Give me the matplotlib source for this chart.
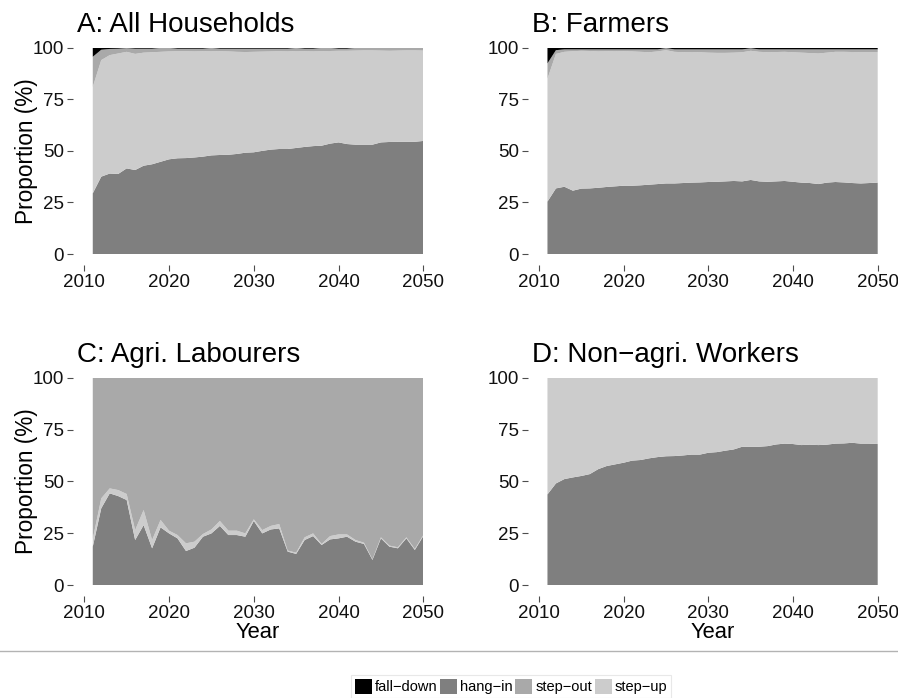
import matplotlib
matplotlib.use("Agg")
import matplotlib.pyplot as plt
from matplotlib.patches import Patch
from matplotlib.lines import Line2D
import numpy as np

plt.rcParams['font.family'] = ['Liberation Sans', 'DejaVu Sans']

years = np.arange(2011, 2051)
categories = ["fall\u2212down", "hang\u2212in", "step\u2212out", "step\u2212up"]
colours = {"fall": "#000000", "hang": "#7f7f7f", "out": "#a9a9a9", "up": "#cccccc"}

# A: All Households
a_hang = [29.4, 37.5, 39.0, 38.8, 41.5, 40.7, 42.8, 43.5, 44.7, 45.9, 46.4, 46.5, 46.8, 47.2, 47.8, 48.0, 48.1, 48.5, 49.1, 49.3,
          50.0, 50.6, 50.9, 50.9, 51.4, 51.9, 52.3, 52.5, 53.5, 54.1, 53.3, 53.0, 53.0, 53.0, 54.1, 54.3, 54.4, 54.4, 54.4, 54.8]
a_up = [51.6, 56.5, 57.4, 58.4, 56.5, 56.3, 54.8, 54.3, 53.3, 52.3, 51.9, 51.8, 51.4, 51.1, 50.6, 50.3, 50.1, 49.5, 48.8, 48.7,
        48.1, 47.6, 47.4, 47.3, 47.0, 46.4, 45.9, 45.8, 44.9, 44.4, 45.2, 45.6, 45.7, 45.7, 44.5, 44.2, 44.2, 44.3, 44.3, 43.8]
a_out = [14.6, 5.0, 3.0, 2.3, 1.8, 2.5, 1.9, 1.7, 1.9, 1.7, 1.2, 1.2, 1.3, 1.2, 1.5, 1.2, 1.3, 1.5, 1.6, 1.5,
         1.4, 1.3, 1.2, 1.3, 1.5, 1.2, 1.3, 1.6, 1.5, 1.0, 1.0, 1.3, 1.2, 1.2, 1.3, 1.4, 1.3, 1.2, 1.2, 1.3]
a_fall = [4.4, 1.0, 0.6, 0.5, 0.2, 0.5, 0.5, 0.5, 0.1, 0.1, 0.5, 0.5, 0.5, 0.5, 0.1, 0.5, 0.5, 0.5, 0.5, 0.5,
          0.5, 0.5, 0.5, 0.5, 0.1, 0.5, 0.5, 0.1, 0.1, 0.5, 0.5, 0.1, 0.1, 0.1, 0.1, 0.1, 0.1, 0.1, 0.1, 0.1]

# B: Farmers
b_hang = [25.4, 31.8, 32.6, 30.7, 31.7, 31.8, 32.1, 32.5, 32.8, 33.1, 33.1, 33.3, 33.6, 33.9, 34.2, 34.2, 34.4, 34.6, 34.7, 34.9,
          35.0, 35.2, 35.4, 35.2, 35.9, 35.2, 35.0, 35.2, 35.4, 35.0, 34.6, 34.4, 33.9, 34.6, 34.9, 34.7, 34.4, 34.2, 34.4, 34.6]
b_up = [59.6, 65.2, 65.4, 67.6, 66.8, 66.6, 66.1, 65.8, 65.6, 65.2, 65.1, 64.7, 64.2, 64.3, 64.6, 63.8, 63.4, 63.3, 63.1, 62.7,
        62.5, 62.3, 62.2, 62.6, 62.6, 62.8, 62.8, 62.7, 62.6, 62.8, 63.0, 63.0, 63.3, 63.0, 63.1, 63.3, 63.5, 63.6, 63.4, 63.2]
b_out = [7.4, 1.8, 1.2, 0.9, 0.7, 0.8, 1.0, 0.9, 0.8, 0.9, 1.0, 1.2, 1.4, 1.0, 1.0, 1.2, 1.4, 1.3, 1.4, 1.6,
         1.7, 1.7, 1.6, 1.4, 1.2, 1.2, 1.4, 1.3, 1.2, 1.4, 1.6, 1.8, 2.0, 1.6, 1.2, 1.2, 1.3, 1.4, 1.4, 1.4]
b_fall = [7.6, 1.2, 0.8, 0.8, 0.8, 0.8, 0.8, 0.8, 0.8, 0.8, 0.8, 0.8, 0.8, 0.8, 0.2, 0.8, 0.8, 0.8, 0.8, 0.8,
          0.8, 0.8, 0.8, 0.8, 0.3, 0.8, 0.8, 0.8, 0.8, 0.8, 0.8, 0.8, 0.8, 0.8, 0.8, 0.8, 0.8, 0.8, 0.8, 0.8]

# C: Agri. Labourers
c_hang = [18.5, 37.0, 44.2, 42.9, 41.0, 21.7, 28.9, 17.7, 27.8, 24.9, 22.5, 16.4, 18.0, 23.3, 24.9, 28.5, 24.1, 24.1, 23.3, 30.9,
          24.9, 26.8, 27.3, 16.1, 15.0, 21.7, 23.6, 19.3, 22.0, 22.5, 23.3, 20.9, 19.8, 12.1, 22.5, 18.5, 17.7, 22.5, 16.9, 23.6]
c_up = [3.7, 4.8, 2.4, 2.9, 2.9, 4.8, 7.3, 4.0, 3.6, 1.3, 1.6, 3.7, 2.9, 1.3, 1.9, 2.4, 2.1, 2.1, 1.6, 0.8,
        1.6, 1.7, 2.1, 0.5, 0.6, 1.3, 1.3, 0.5, 1.6, 1.9, 1.1, 0.8, 0.6, 0.3, 0.5, 0.5, 0.5, 0.5, 0.5, 0.5]
c_out = [77.8, 58.2, 53.4, 54.2, 56.1, 73.5, 63.8, 78.3, 68.6, 73.8, 75.9, 79.9, 79.1, 75.4, 73.2, 69.1, 73.8, 73.8, 75.1, 68.3,
         73.5, 71.5, 70.6, 83.4, 84.4, 77.0, 75.1, 80.2, 76.4, 75.6, 75.6, 78.3, 79.6, 87.6, 77.0, 81.0, 81.8, 77.0, 82.6, 75.9]
c_fall = [0.0] * 40

# D: Non-agri. Workers
d_hang = [43.7, 49.0, 51.1, 51.9, 52.6, 53.5, 55.9, 57.4, 58.2, 59.0, 60.0, 60.3, 61.1, 61.7, 62.1, 62.2, 62.5, 62.9, 62.9, 63.8,
          64.1, 64.8, 65.4, 66.7, 66.7, 66.7, 67.0, 67.8, 68.2, 68.0, 67.5, 67.7, 67.5, 67.7, 68.2, 68.3, 68.6, 68.2, 68.2, 68.0]
d_up = [56.3, 51.0, 48.9, 48.1, 47.4, 46.5, 44.1, 42.6, 41.8, 41.0, 40.0, 39.7, 38.9, 38.3, 37.9, 37.8, 37.5, 37.1, 37.1, 36.2,
        35.9, 35.2, 34.6, 33.3, 33.3, 33.3, 33.0, 32.2, 31.8, 32.0, 32.5, 32.3, 32.5, 32.3, 31.8, 31.7, 31.4, 31.8, 31.8, 32.0]
d_out = [0.0] * 40
d_fall = [0.0] * 40

panels = [
    ("A: All Households", a_hang, a_up, a_out, a_fall),
    ("B: Farmers", b_hang, b_up, b_out, b_fall),
    ("C: Agri. Labourers", c_hang, c_up, c_out, c_fall),
    ("D: Non\u2212agri. Workers", d_hang, d_up, d_out, d_fall),
]

W, H = 898, 698
fig = plt.figure(figsize=(W / 100, H / 100), dpi=100)

# panel boxes in pixels: left, right, top(y=100), bottom(y=0)
boxes = [(84.3, 423.3, 47.7, 254.0), (539.0, 877.7, 47.7, 254.0),
         (84.3, 423.3, 377.7, 585.0), (539.0, 877.7, 377.7, 585.0)]

for i, (title, hang, up, out, fall) in enumerate(panels):
    l, r, t, b = boxes[i]
    ax = fig.add_axes([l / W, (H - b) / H, (r - l) / W, (b - t) / H])
    ax.stackplot(years, hang, up, out, fall,
                 colors=[colours["hang"], colours["up"], colours["out"], colours["fall"]],
                 linewidth=0)
    ax.set_xlim(2010, 2050)
    ax.set_ylim(0, 100)
    ax.set_xticks([2010, 2020, 2030, 2040, 2050])
    ax.set_yticks([0, 25, 50, 75, 100])
    for s in ax.spines.values():
        s.set_visible(False)
    ax.spines['left'].set_position(('outward', 8))
    ax.spines['bottom'].set_position(('outward', 8))
    ax.tick_params(length=4, width=0.8, color='#4d4d4d', labelsize=13.5,
                   labelcolor='#111111', pad=2.5)
    fig.text((l - 7.5) / W, (H - t + 15.5) / H, title, fontsize=20, ha='left', va='baseline')
    if i in (0, 2):
        fig.text(27 / W, (H - (t + b) / 2) / H, "Proportion (%)", fontsize=16.3,
                 rotation=90, ha='center', va='center')
    if i in (2, 3):
        fig.text(((l + r) / 2 + 4) / W, (H - 638) / H, "Year", fontsize=15.8,
                 ha='center', va='baseline')

# separator above the legend
fig.add_artist(Line2D([0, 1], [(H - 651) / H] * 2, color='#b3b3b3', lw=1))

handles = [Patch(facecolor=colours[k], edgecolor='none') for k in ("fall", "hang", "out", "up")]
leg = fig.legend(handles, categories, loc='lower center', bbox_to_anchor=(511 / W, 0.0),
                 ncol=4, fontsize=10.5, frameon=True, fancybox=False, edgecolor='#e3e3e3',
                 handlelength=1.16, handleheight=1.16, handletextpad=0.2, columnspacing=0.2,
                 borderpad=0.25, borderaxespad=0.0)
leg.get_frame().set_linewidth(0.8)

fig.savefig("out.png", dpi=100)
